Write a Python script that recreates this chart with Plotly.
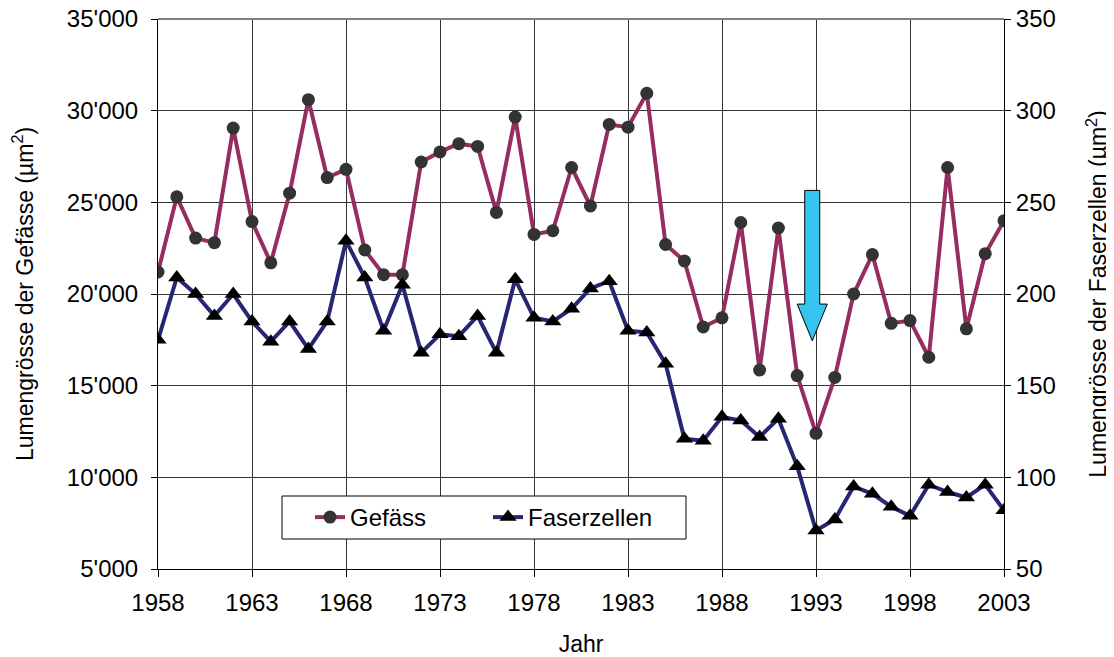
import plotly.graph_objs as go

# data
years = list(range(1958, 2004))

gefaess = [21200, 25300, 23050, 22800, 29050, 23950, 21700, 25500, 30600, 26350,
           26800, 22400, 21050, 21050, 27200, 27750, 28200, 28050, 24450, 29650,
           23250, 23450, 26900, 24800, 29250, 29100, 30950, 22700, 21800, 18200,
           18700, 23900, 15850, 23600, 15550, 12400, 15450, 20000, 22150, 18400,
           18550, 16550, 26900, 18100, 22200, 24000]

faserzellen = [175, 209, 200, 188, 200, 185, 174, 185, 170, 185,
               229, 209, 180, 205, 168, 178, 177, 188, 168, 208,
               187, 185, 192, 203, 207, 180, 179, 162, 121, 120,
               133, 131, 122, 132, 106, 71, 77, 95, 91, 84,
               79, 96, 92, 89, 96, 82]

left_ticks = [5000, 10000, 15000, 20000, 25000, 30000, 35000]
left_labels = ["5'000", "10'000", "15'000", "20'000", "25'000", "30'000", "35'000"]

# block arrow marking 1993 (year, top, head start, tip)
arrow_year = 1992.8
arrow_top = 25650
arrow_head = 19450
arrow_tip = 17450
shaft_half = 0.4
head_half = 0.8

font_name = "Liberation Sans, Arial, sans-serif"

fig = go.Figure()

fig.add_trace(go.Scatter(
    x = years,
    y = gefaess,
    name = "Gefäss",
    mode = "lines+markers",
    line = dict(color = "#962D62", width = 4),
    marker = dict(symbol = "circle", size = 13, color = "#333333"),
))

fig.add_trace(go.Scatter(
    x = years,
    y = faserzellen,
    name = "Faserzellen",
    yaxis = "y2",
    mode = "lines+markers",
    line = dict(color = "#262673", width = 4),
    marker = dict(symbol = "triangle-up", size = 15, color = "black"),
))

arrow_path = (
    f"M {arrow_year - shaft_half} {arrow_top} "
    f"L {arrow_year + shaft_half} {arrow_top} "
    f"L {arrow_year + shaft_half} {arrow_head} "
    f"L {arrow_year + head_half} {arrow_head} "
    f"L {arrow_year} {arrow_tip} "
    f"L {arrow_year - head_half} {arrow_head} "
    f"L {arrow_year - shaft_half} {arrow_head} Z"
)

fig.add_shape(
    type = "path",
    path = arrow_path,
    xref = "x", yref = "y",
    fillcolor = "#33C4F0",
    line = dict(color = "black", width = 1),
)

# grey frame line on top of the plot area
fig.add_shape(
    type = "line",
    xref = "paper", yref = "paper",
    x0 = 0, x1 = 1, y0 = 1, y1 = 1,
    line = dict(color = "#808080", width = 2),
)

# legend frame (white box that hides the grid behind the legend)
fig.add_shape(
    type = "rect",
    xref = "paper", yref = "paper",
    x0 = 0.1466, x1 = 0.6241, y0 = 0.0545, y1 = 0.1327,
    fillcolor = "white",
    line = dict(color = "black", width = 1),
    layer = "above",
)

fig.update_layout(
    width = 1106,
    height = 649,
    margin = dict(l = 150, r = 110, t = 11, b = 88),
    plot_bgcolor = "white",
    paper_bgcolor = "white",
    font = dict(family = font_name, size = 24, color = "black"),
    showlegend = True,
    legend = dict(
        orientation = "h",
        x = 0.1797, y = 0.0936,
        xanchor = "left", yanchor = "middle",
        bgcolor = "rgba(0,0,0,0)",
        borderwidth = 0,
        font = dict(size = 24),
        entrywidth = 133,
    ),
)

fig.update_xaxes(
    range = [1958, 2003],
    tick0 = 1958,
    dtick = 5,
    ticks = "outside",
    ticklen = 7,
    tickcolor = "black",
    ticklabelstandoff = 5,
    ticklabeloverflow = "allow",
    showline = True,
    linecolor = "black",
    linewidth = 1,
    showgrid = True,
    gridcolor = "#333333",
    gridwidth = 1,
    zeroline = False,
    automargin = False,
    title = dict(text = "Jahr", font = dict(size = 23), standoff = 22),
)

fig.update_layout(
    yaxis = dict(
        range = [5000, 35000],
        tickmode = "array",
        tickvals = left_ticks,
        ticktext = left_labels,
        ticks = "outside",
        ticklen = 6,
        tickcolor = "black",
        ticklabelstandoff = 8,
        ticklabeloverflow = "allow",
        showline = True,
        linecolor = "black",
        linewidth = 1,
        showgrid = True,
        gridcolor = "#333333",
        gridwidth = 1,
        zeroline = False,
        automargin = False,
        title = dict(text = "Lumengrösse der Gefässe (µm<sup>2</sup>)", font = dict(size = 23), standoff = 30),
    ),
    yaxis2 = dict(
        range = [50, 350],
        dtick = 50,
        overlaying = "y",
        side = "right",
        ticks = "outside",
        ticklen = 6,
        tickcolor = "black",
        ticklabeloverflow = "allow",
        showline = True,
        linecolor = "black",
        linewidth = 1,
        showgrid = False,
        zeroline = False,
        automargin = False,
        title = dict(text = "Lumengrösse der Faserzellen (µm<sup>2</sup>)", font = dict(size = 23), standoff = 35),
    ),
)

fig.write_html("out.html")
